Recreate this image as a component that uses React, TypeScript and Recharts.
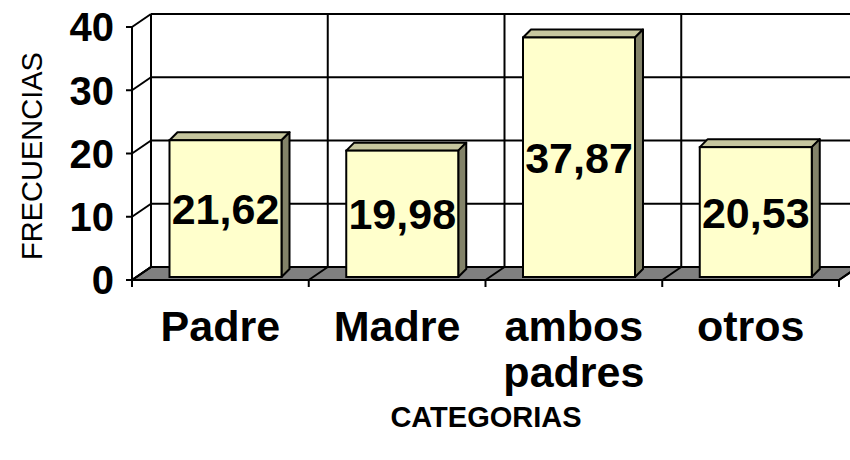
import React from "react";
import { BarChart, Bar, XAxis, YAxis, CartesianGrid, LabelList } from "recharts";

const categories = ["Padre", "Madre", "ambos\npadres", "otros"];
const values = [21.62, 19.98, 37.87, 20.53];
const yTicks = [0, 10, 20, 30, 40];
const yTitle = "FRECUENCIAS";
const xTitle = "CATEGORIAS";

const data = categories.map((c, i) => ({ name: c, value: values[i] }));

const W = 850;
const H = 460;
const MARGIN = { top: 27, right: 11, left: 0, bottom: 0 };
const Y_AXIS_W = 132;
const X_AXIS_H = 180;
const PLOT_LEFT = MARGIN.left + Y_AXIS_W;
const PLOT_BOTTOM = H - MARGIN.bottom - X_AXIS_H;
const WALL_DX = 19;
const WALL_DY = -13;
const BAR_SX = 5.5;
const BAR_SY = -3;
const BAR_D = 8;
const FONT = "'Liberation Sans', Arial, sans-serif";

const horizontalLine = (p: any) => {
  const { x1, y1, x2, index } = p;
  const isFloor = Math.abs(y1 - PLOT_BOTTOM) < 1;
  return (
    <g key={`h-${index}-${y1}`}>
      {isFloor && (
        <polygon
          points={`${x1},${y1} ${x2},${y1} ${x2 + WALL_DX},${y1 + WALL_DY} ${x1 + WALL_DX},${y1 + WALL_DY}`}
          fill="#808080"
          stroke="#000"
          strokeWidth={2}
          strokeLinejoin="round"
        />
      )}
      {!isFloor && (
        <line x1={x1 + WALL_DX} y1={y1 + WALL_DY} x2={x2 + WALL_DX + 20} y2={y1 + WALL_DY} stroke="#000" strokeWidth={2} />
      )}
      <line x1={x1} y1={y1} x2={x1 + WALL_DX} y2={y1 + WALL_DY} stroke="#000" strokeWidth={2} />
      <line x1={x1 - 6} y1={y1} x2={isFloor ? x2 : x1} y2={y1} stroke="#000" strokeWidth={2} />
    </g>
  );
};

const verticalLine = (p: any) => {
  const { x1, y1, y2, index } = p;
  return (
    <g key={`v-${index}-${x1}`}>
      <line x1={x1 + WALL_DX} y1={y1 + WALL_DY} x2={x1 + WALL_DX} y2={y2 + WALL_DY} stroke="#000" strokeWidth={2} />
      <line x1={x1} y1={y2} x2={x1 + WALL_DX} y2={y2 + WALL_DY} stroke="#000" strokeWidth={2} />
      <line x1={x1} y1={y2} x2={x1} y2={y2 + 7} stroke="#000" strokeWidth={2} />
    </g>
  );
};

const verticalGen = ({ offset }: any) => {
  const n = categories.length;
  const pts: number[] = [];
  for (let i = 0; i <= n; i++) pts.push(offset.left + (i * offset.width) / n);
  return pts;
};

const Bar3D = (props: any) => {
  const { x, y, width, height } = props;
  const fx = x + BAR_SX;
  const fy = y + BAR_SY;
  const d = BAR_D;
  return (
    <g>
      <polygon
        points={`${fx},${fy} ${fx + d},${fy - d} ${fx + width + d},${fy - d} ${fx + width},${fy}`}
        fill="#c6c69e"
        stroke="#000"
        strokeWidth={2}
        strokeLinejoin="round"
      />
      <polygon
        points={`${fx + width},${fy} ${fx + width + d},${fy - d} ${fx + width + d},${fy + height - d} ${fx + width},${fy + height}`}
        fill="#838369"
        stroke="#000"
        strokeWidth={2}
        strokeLinejoin="round"
      />
      <rect x={fx} y={fy} width={width} height={height} fill="#ffffcc" stroke="#000" strokeWidth={2} />
    </g>
  );
};

const ValueLabel = (props: any) => {
  const { x, y, width, height, value } = props;
  const cx = x + width / 2 + BAR_SX;
  const cy = y + height / 2 + BAR_SY;
  return (
    <text
      x={cx}
      y={cy}
      dy="0.36em"
      textAnchor="middle"
      fontFamily={FONT}
      fontWeight="bold"
      fontSize={43}
      fill="#000"
    >
      {Number(value).toFixed(2).replace(".", ",")}
    </text>
  );
};

const YTick = (props: any) => {
  const { y, payload } = props;
  return (
    <text x={PLOT_LEFT - 18} y={y} dy="0.36em" textAnchor="end" fontFamily={FONT} fontWeight="bold" fontSize={40} fill="#000">
      {payload.value}
    </text>
  );
};

const XTick = (props: any) => {
  const { x, y, payload } = props;
  const lines = String(payload.value).split("\n");
  return (
    <text x={x} y={y} textAnchor="middle" fontFamily={FONT} fontWeight="bold" fontSize={43} fill="#000">
      {lines.map((l, i) => (
        <tspan key={i} x={x} y={y + 53 + i * 46}>
          {l}
        </tspan>
      ))}
    </text>
  );
};

export default function App() {
  return (
    <div style={{ position: "absolute", left: 0, top: 0, width: W, height: H, overflow: "hidden", background: "#fff" }}>
      <BarChart width={W} height={H} data={data} margin={MARGIN}>
        <CartesianGrid
          horizontal={horizontalLine}
          vertical={verticalLine}
          verticalCoordinatesGenerator={verticalGen}
          syncWithTicks={false}
        />
        <XAxis
          dataKey="name"
          height={X_AXIS_H}
          axisLine={false}
          tickLine={false}
          tick={<XTick />}
          interval={0}
          label={{
            content: () => (
              <text x={486} y={417} dy="0.36em" textAnchor="middle" fontFamily={FONT} fontWeight="bold" fontSize={29} fill="#000">
                {xTitle}
              </text>
            ),
          }}
        />
        <YAxis
          width={Y_AXIS_W}
          domain={[0, 40]}
          ticks={yTicks}
          interval={0}
          axisLine={{ stroke: "#000", strokeWidth: 2 }}
          tickLine={false}
          tick={<YTick />}
          label={{
            content: () => (
              <text
                x={32}
                y={156}
                dy="0.36em"
                textAnchor="middle"
                fontFamily={FONT}
                fontSize={29}
                fill="#000"
                transform="rotate(-90 32 156)"
              >
                {yTitle}
              </text>
            ),
          }}
        />
        <Bar dataKey="value" barSize={112} shape={<Bar3D />} isAnimationActive={false}>
          <LabelList dataKey="value" content={<ValueLabel />} />
        </Bar>
      </BarChart>
    </div>
  );
}
